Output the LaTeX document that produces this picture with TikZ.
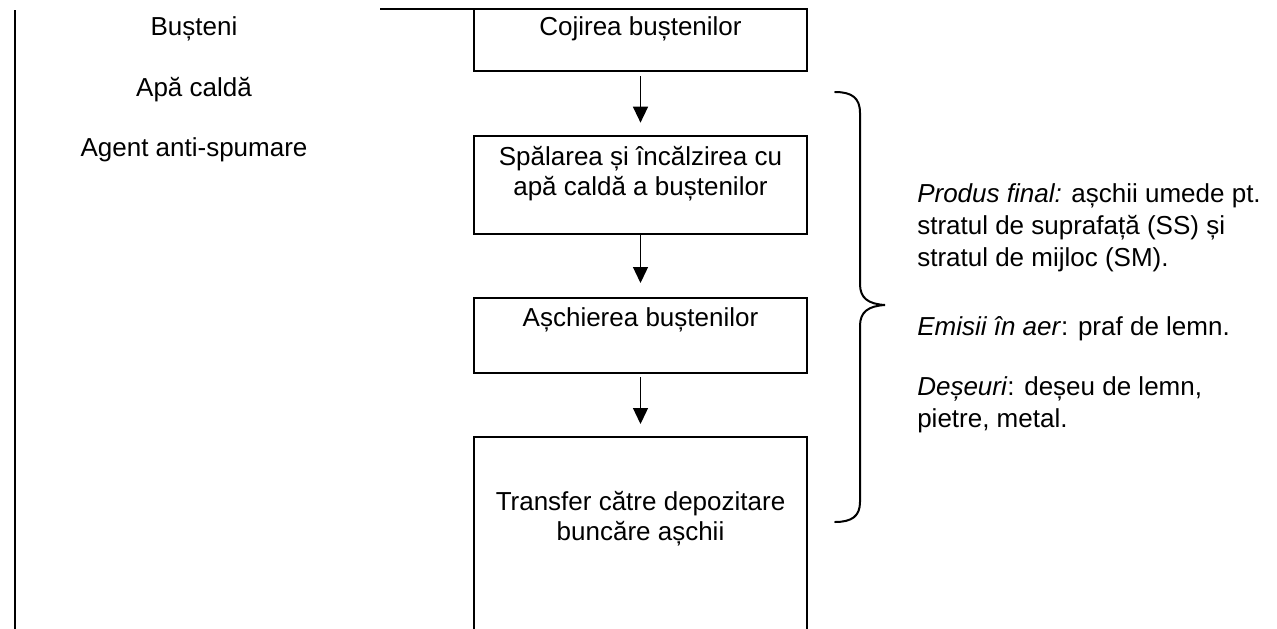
\documentclass[tikz,border=0pt]{standalone}
\usepackage{fontspec}
\setmainfont{Liberation Sans}
\usetikzlibrary{positioning, arrows.meta}
\tikzstyle{procBox}=[draw=black, line width=1.5pt, minimum width=249.75pt, inner sep=0pt, outer sep=0pt]
\tikzstyle{boxText}=[anchor=base, align=center, inner sep=0pt]
\tikzstyle{inputText}=[anchor=base, inner sep=0pt]
\tikzstyle{noteText}=[anchor=base west, align=left, inner sep=0pt,
  font=\fontsize{19.5}{24}\selectfont]
\tikzstyle{arrow}=[-{Triangle[width=11.25pt, length=12pt]}, line width=1pt, draw=black]
\tikzstyle{frameLine}=[line width=1.5pt, draw=black]
\tikzstyle{curlyBrace}=[line width=1.5pt, draw=black, line cap=round]

\begin{document}
\begin{tikzpicture}[x=0.75pt, y=-0.75pt, font=\fontsize{19.5}{22.5}\selectfont]
      \useasboundingbox (0,0) rectangle (1277,628);
      \clip (0,0) rectangle (1277,628);

      \coordinate (leftTop) at (15,10);
      \coordinate (leftBot) at (15,640);
      \coordinate (topEnd) at (380,0);

      % process boxes
      \node[procBox, minimum height=46.5pt] (cojire) at (640.5,40) {};
      \node[procBox, minimum height=73.5pt] (spalare) at (640.5,185) {};
      \node[procBox, minimum height=56.25pt] (aschiere) at (640.5,335.5) {};
      \node[procBox, minimum height=150pt] (transfer) at (640.5,537) {};

      % box texts (base = last line)
      \node[boxText] (cojireTxt) at (640.5,36) {Cojirea buștenilor};
      \node[boxText] (spalareTxt) at (640.5,195) {Spălarea și încălzirea cu\\apă caldă a buștenilor};
      \node[boxText] (aschiereTxt) at (640.5,326) {Așchierea buștenilor};
      \node[boxText] (transferTxt) at (640.5,540) {Transfer către depozitare\\buncăre așchii};

      % inputs
      \node[inputText] (busteni) at (194,36) {Bușteni};
      \node[inputText] (apa) at (194,96) {Apă caldă};
      \node[inputText] (agent) at (194,156) {Agent anti-spumare};

      \draw[frameLine] (leftTop) -- (leftBot);
      \draw[frameLine] (topEnd |- cojire.north) -- (cojire.north west);

      \draw[arrow] ([yshift=-3.75pt]cojire.south) -- ([yshift=10pt]spalare.north);
      \draw[arrow] (spalare.south) -- ([yshift=11.25pt]aschiere.north);
      \draw[arrow] ([yshift=-3pt]aschiere.south) -- ([yshift=9.75pt]transfer.north);

      % brace and outputs
      \draw[curlyBrace] (835,92) .. controls (852,92) and (860,98) .. (860,113)
        -- (860,284) .. controls (860,298) and (868,304) .. (885,305)
        .. controls (868,306) and (860,312) .. (860,326)
        -- (860,502) .. controls (860,516) and (852,522) .. (835,522);

      \node[noteText] (produs) at (917,266) {\textit{Produs final:} așchii umede pt.\\stratul de suprafață (SS) și\\stratul de mijloc (SM).};
      \node[noteText] (emisii) at (917,335) {\textit{Emisii în aer}: praf de lemn.};
      \node[noteText] (deseuri) at (917,427) {\textit{Deșeuri}: deșeu de lemn,\\pietre, metal.};
    \end{tikzpicture}
\end{document}
